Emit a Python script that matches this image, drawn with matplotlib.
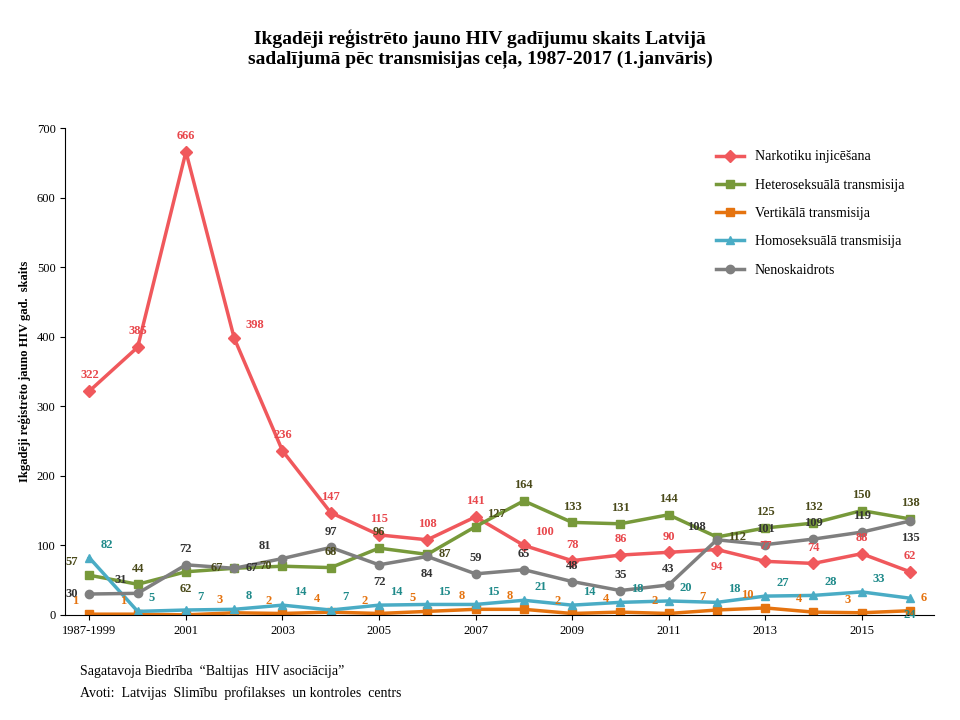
import matplotlib
matplotlib.use("Agg")
import matplotlib.pyplot as plt

years = ["1987-1999"] + [str(y) for y in range(2000, 2017)]
narko = [322,385,666,398,236,147,115,108,141,100,78,86,90,94,77,74,88,62]
hetero = [57,44,62,67,70,68,96,87,127,164,133,131,144,112,125,132,150,138]
vert = [1,1,0,3,2,4,2,5,8,8,2,4,2,7,10,4,3,6]
homo = [82,5,7,8,14,7,14,15,15,21,14,18,20,18,27,28,33,24]
neno = [30,31,72,67,81,97,72,84,59,65,48,35,43,108,101,109,119,135]

# label placement codes: a=above, b=below, l=left, r=right, L=left-above, R=right-above
pos_narko = "aaaRaaaaaRaaabaaaa"
pos_hetero = "LabllaarRaaaaraaaa"
pos_vert = "LLLLLLLLLLLLLLLLLR"
pos_homo = "RRRRRRRRRRRRRRRRRb"
pos_neno = "lLarLabbaaaaaLaaab"
OFF = {"a": (0, 7, "center", "bottom"), "b": (0, -8, "center", "top"),
       "l": (-8, 0, "right", "center"), "r": (8, 0, "left", "center"),
       "L": (-8, 5, "right", "bottom"), "R": (8, 5, "left", "bottom")}

plt.rcParams['font.family'] = ['Liberation Serif', 'DejaVu Serif']
fig = plt.figure(figsize=(9.6, 7.2), dpi=100)
ax = fig.add_axes([0.068, 0.146, 0.905, 0.676])
x = list(range(len(years)))
series = [
    ("Narkotiku injicēšana", narko, "#F0585C", "D", pos_narko, "#E8474C"),
    ("Heteroseksuālā transmisija", hetero, "#77993A", "s", pos_hetero, "#4A4A1A"),
    ("Vertikālā transmisija", vert, "#E5730F", "s", pos_vert, "#E5730F"),
    ("Homoseksuālā transmisija", homo, "#4AACC5", "^", pos_homo, "#1F8A8A"),
    ("Nenoskaidrots", neno, "#7F7F7F", "o", pos_neno, "#333333"),
]
for name, vals, col, mk, pos, tcol in series:
    ax.plot(x, vals, color=col, marker=mk, markersize=6, linewidth=2.5, label=name)
    for xi, v, p in zip(x, vals, pos):
        if v == 0:
            continue
        dx, dy, ha, va = OFF[p]
        ax.annotate(str(v), (xi, v), xytext=(dx, dy), textcoords="offset points",
                    ha=ha, va=va, fontsize=9, fontweight="bold", color=tcol)
ax.set_xlim(-0.5, len(years) - 0.5)
ax.set_ylim(0, 700)
ax.set_yticks(range(0, 701, 100))
ax.set_xticks(x[::2])
ax.set_xticklabels(years[::2], fontsize=9)
ax.tick_params(axis='y', labelsize=9)
for s in ["top", "right"]:
    ax.spines[s].set_visible(False)
ax.set_ylabel("Ikgadēji reģistrēto jauno HIV gad.  skaits", fontsize=9, fontweight="bold")
ax.legend(loc="upper right", frameon=False, fontsize=10, bbox_to_anchor=(0.98, 0.98), labelspacing=1.1)
fig.suptitle("Ikgadēji reģistrēto jauno HIV gadījumu skaits Latvijā\nsadalījumā pēc transmisijas ceļa, 1987-2017 (1.janvāris)",
             fontsize=14, fontweight="bold", y=0.96)
fig.text(0.083, 0.062, "Sagatavoja Biedrība  \u201cBaltijas  HIV asociācija\u201d", fontsize=10)
fig.text(0.083, 0.032, "Avoti:  Latvijas  Slimību  profilakses  un kontroles  centrs", fontsize=10)
fig.savefig("out.png")
